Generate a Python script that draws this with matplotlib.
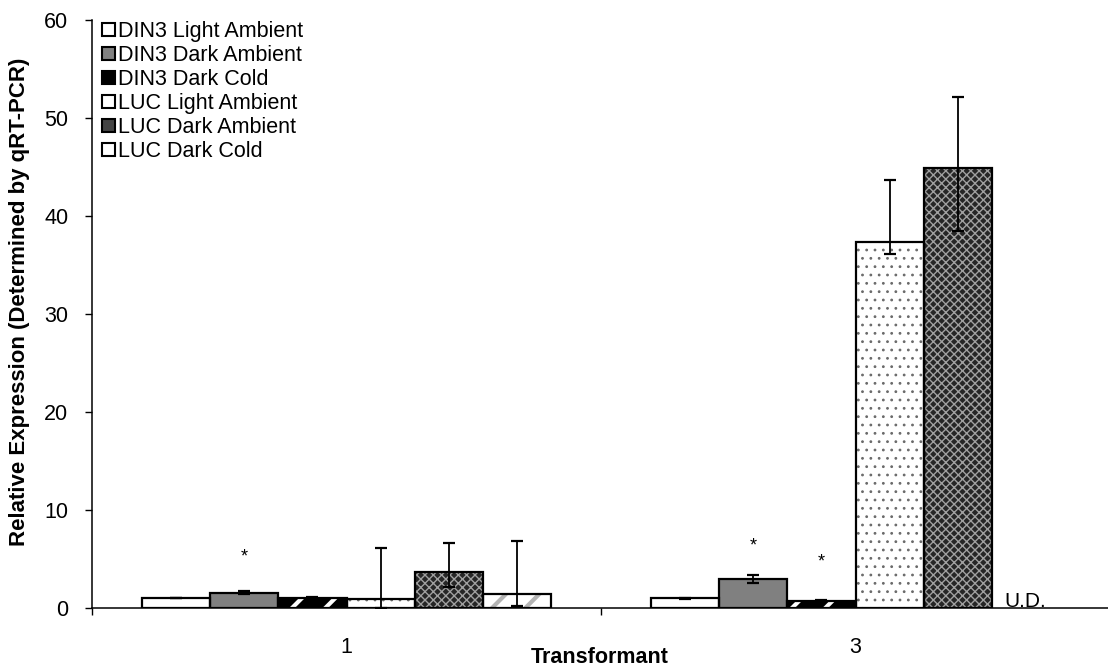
import numpy as np
import matplotlib
matplotlib.use('Agg')
import matplotlib.pyplot as plt
from matplotlib.patches import Patch

plt.rcParams['font.family'] = ['Liberation Sans', 'DejaVu Sans']

# ---------------- data ----------------
categories = ['1', '3']
series_names = ['DIN3 Light Ambient', 'DIN3 Dark Ambient', 'DIN3 Dark Cold',
                'LUC Light Ambient', 'LUC Dark Ambient', 'LUC Dark Cold']

din3_light_ambient = [1.0, 1.0]
din3_dark_ambient = [1.57, 2.92]
din3_dark_cold = [1.05, 0.76]
luc_light_ambient = [0.92, 37.3]
luc_dark_ambient = [3.65, 44.9]
luc_dark_cold = [1.4, np.nan]          # U.D. for transformant 3

err_low_din3_la = [0.03, 0.05]
err_high_din3_la = [0.03, 0.05]
err_low_din3_da = [0.12, 0.40]
err_high_din3_da = [0.12, 0.40]
err_low_din3_dc = [0.05, 0.06]
err_high_din3_dc = [0.05, 0.06]
err_low_luc_la = [0.92, 1.2]
err_high_luc_la = [5.2, 6.4]
err_low_luc_da = [1.47, 6.4]
err_high_luc_da = [3.0, 7.2]
err_low_luc_dc = [1.16, np.nan]
err_high_luc_dc = [5.47, np.nan]

# significance markers: (category index, series index, height)
star_cat = [0, 1, 1]
star_series = [1, 1, 2]
star_height = [4.7, 5.9, 4.2]

ud_label = 'U.D.'

values = [din3_light_ambient, din3_dark_ambient, din3_dark_cold,
          luc_light_ambient, luc_dark_ambient, luc_dark_cold]
err_low = [err_low_din3_la, err_low_din3_da, err_low_din3_dc,
           err_low_luc_la, err_low_luc_da, err_low_luc_dc]
err_high = [err_high_din3_la, err_high_din3_da, err_high_din3_dc,
            err_high_luc_la, err_high_luc_da, err_high_luc_dc]

# ---------------- styles ----------------
# (facecolor, hatch, hatchcolor, hatch linewidth)
styles = [
    ('white', None, 'black', 1.0),
    ('#808080', None, 'black', 1.0),
    ('black', '/', 'white', 3.0),
    ('white', '..', '#6a6a6a', 0.8),
    ('#262626', 'xxxx', '#a0a0a0', 1.0),
    ('white', '/', '#b4b4b4', 3.0),
]

W, H = 1108, 667
fig = plt.figure(figsize=(W / 100, H / 100), dpi=100)
ax = fig.add_axes([92 / W, 59 / H, 1018 / W, 588 / H])

x = np.arange(len(categories))
n = len(series_names)
bw = 0.1336

for i in range(n):
    fc, hatch, hc, hlw = styles[i]
    pos = x + (i - (n - 1) / 2) * bw
    vals = np.array(values[i], dtype=float)
    with plt.rc_context({'hatch.linewidth': hlw}):
        ax.bar(pos, vals, width=bw, facecolor=fc, edgecolor=hc if hatch else fc,
               hatch=hatch, linewidth=0, zorder=2)
    ax.bar(pos, vals, width=bw, fill=False, edgecolor='black', linewidth=1.6, zorder=3)

for i in range(n):
    pos = x + (i - (n - 1) / 2) * bw
    vals = np.array(values[i], dtype=float)
    ax.errorbar(pos, vals, yerr=[err_low[i], err_high[i]], fmt='none', ecolor='black',
                elinewidth=1.3, capsize=4.5, capthick=1.6, zorder=5)

for c, s, h in zip(star_cat, star_series, star_height):
    ax.text(x[c] + (s - (n - 1) / 2) * bw, h, '*', ha='center', va='baseline',
            fontsize=13, color='black', zorder=6)

ax.text(x[1] + (5 - (n - 1) / 2) * bw, 0.12, ud_label, ha='center', va='baseline',
        fontsize=15, color='black')

ax.set_xlim(-0.5, 1.5)
ax.set_ylim(0, 60)
ax.set_yticks(np.arange(0, 61, 10))
ax.set_xticks(x)
ax.set_xticklabels(categories)
ax.set_xticks([-0.5, 0.5, 1.5], minor=True)
ax.tick_params(axis='x', which='major', length=0, pad=21, labelsize=15.5)
ax.tick_params(axis='x', which='minor', length=5, width=1, direction='out')
ax.tick_params(axis='y', length=5, width=1, pad=12, labelsize=15.5)
for sp in ['top', 'right']:
    ax.spines[sp].set_visible(False)
for sp in ['left', 'bottom']:
    ax.spines[sp].set_linewidth(1.1)

ax.set_xlabel('Transformant', fontsize=15.5, fontweight='bold')
ax.xaxis.set_label_coords(0.499, -0.066)
ax.set_ylabel('Relative Expression (Determined by qRT-PCR)', fontsize=16,
              fontweight='bold')
ax.yaxis.set_label_coords(-0.061, 0.52)

handles = []
for i in range(n):
    fc, hatch, hc, hlw = styles[i]
    if i == 2:
        handles.append(Patch(facecolor='black', edgecolor='black', linewidth=1.5))
    elif i == 4:
        handles.append(Patch(facecolor='#444444', edgecolor='black', linewidth=1.5))
    else:
        handles.append(Patch(facecolor=fc, edgecolor='black', linewidth=1.5))
leg = ax.legend(handles, series_names, loc='upper left',
                bbox_to_anchor=(102 / W, 1 - 21 / H), bbox_transform=fig.transFigure,
                frameon=False, fontsize=15.5, handlelength=0.6, handleheight=0.6,
                handletextpad=0.15, labelspacing=0.14, borderpad=0, borderaxespad=0)

fig.savefig('out.png', dpi=100)
